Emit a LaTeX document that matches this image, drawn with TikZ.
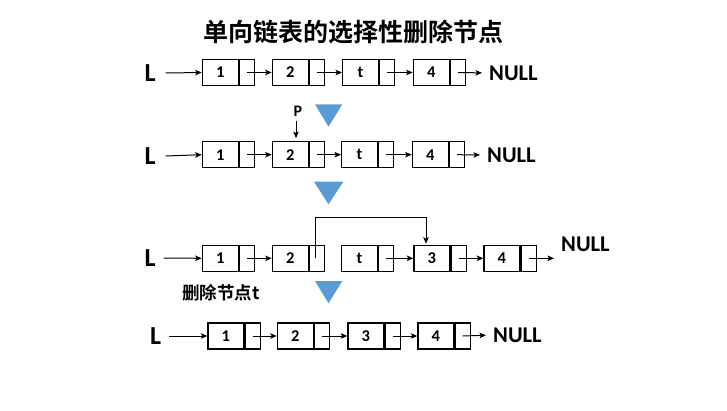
\documentclass[tikz,border=0pt]{standalone}
\usepackage{fontspec}
\setmainfont{Carlito}
\newfontfamily\cjk{Noto Sans CJK SC}[BoldFont=* Bold]
\usetikzlibrary{arrows.meta}
\definecolor{triblue}{HTML}{5B9BD5}
\tikzset{
  datacell/.style={draw, line width=1.2pt, minimum width=36pt, minimum height=26pt,
    inner sep=0pt, anchor=west, font=\fontsize{16.5}{16.5}\selectfont\bfseries},
  ptrcell/.style={draw, line width=1.2pt, minimum width=15pt, minimum height=26pt,
    inner sep=0pt, anchor=west},
  link/.style={line width=1pt, -{Stealth[length=6.5pt,width=5.5pt,inset=1.5pt]}},
  headlabel/.style={font=\fontsize{26}{26}\selectfont\bfseries, inner sep=0pt},
  nulllabel/.style={font=\fontsize{22.5}{22.5}\selectfont\bfseries, inner sep=0pt, anchor=west},
  tonull/.style={link, shorten >=7pt},
  step arrow/.style={fill=triblue, draw=none}
}
% one list cell: data part (#1) followed by its pointer part (#1p)
\newcommand{\listcell}[4]{%
  \node[datacell] (#1) at (#2,#3) {#4};
  \node[ptrcell] (#1p) at (#1.east) {};
}
\begin{document}
\begin{tikzpicture}[x=1pt,y=-1pt]
\useasboundingbox (0,0) rectangle (727,410);

% title
\node[font=\cjk\bfseries\fontsize{25}{26}\selectfont, inner sep=0pt] (title) at (353.5,32) {单向链表的选择性删除节点};

% row 1: original list
\node[headlabel] (L1) at (150,73) {L};
\listcell{a1}{201.7}{72.5}{1}
\listcell{a2}{271.7}{72.5}{2}
\listcell{a3}{342}{72.5}{t}
\listcell{a4}{412.7}{72.5}{4}
\node[nulllabel] (N1) at (489,73) {NULL};
\draw[link] (L1.east) ++(10,0) coordinate (L1s) (L1s) -- (a1.west);
\draw[link] (a1p.center) -- (a2.west);
\draw[link] (a2p.center) -- (a3.west);
\draw[link] (a3p.center) -- (a4.west);
\draw[tonull] (a4p.center) -- (N1.west);

\fill[step arrow] (315,104.3) -- (342.3,104.3) -- (328.5,126.7) -- cycle;

% row 2: P points at the node before t
\node[headlabel] (L2) at (150,156) {L};
\listcell{b1}{201.7}{154.7}{1}
\listcell{b2}{271.7}{154.7}{2}
\listcell{b3}{341}{154.7}{t}
\listcell{b4}{411.7}{154.7}{4}
\node[nulllabel] (N2) at (487,155) {NULL};
\node[font=\fontsize{16}{16}\selectfont\bfseries, inner sep=0pt] (P) at (298,111.5) {P};
\draw[link] (L2.east) ++(10,0) coordinate (L2s) (L2s) -- (b1.west);
\draw[link] (b1p.center) -- (b2.west);
\draw[link] (b2p.center) -- (b3.west);
\draw[link] (b3p.center) -- (b4.west);
\draw[tonull] (b4p.center) -- (N2.west);
\draw[link, shorten >=3pt] (P.south) ++(-2,4) coordinate (Ps) (Ps) -- (Ps |- b2.north);

\fill[step arrow] (314,181.7) -- (343.3,181.7) -- (328.5,204.3) -- cycle;

% row 3: the pointer of 2 skips t
\node[headlabel] (L3) at (150,258) {L};
\listcell{c1}{201.7}{258.3}{1}
\listcell{c2}{271.7}{258.3}{2}
\listcell{c3}{341}{258.3}{t}
\listcell{c4}{413.3}{258.3}{3}
\listcell{c5}{483.3}{258.3}{4}
\node[nulllabel] (N3) at (561,244) {NULL};
\coordinate (c5end) at (554,258.3);
\coordinate (hop) at (426,217.7);
\path (c2p.center) ++(-1.5,0) coordinate (c2s);
\draw[link] (L3.east) ++(8,0) coordinate (L3s) (L3s) -- (c1.west);
\draw[link] (c1p.center) -- (c2.west);
\draw[link, shorten >=1pt] (c2s) -- (c2s |- hop) -- (hop) -- (hop |- c4.north);
\draw[link] (c3p.center) -- (c4.west);
\draw[link] (c4p.center) -- (c5.west);
\draw[link] (c5p.center) -- (c5end);
\node[font=\cjk\bfseries\fontsize{17.5}{18}\selectfont, inner sep=0pt, anchor=west] (del) at (182,293) {删除节点t};

\fill[step arrow] (315,281) -- (342.3,281) -- (328.5,303.3) -- cycle;

% row 4: resulting list
\node[headlabel] (L4) at (155.5,336) {L};
\listcell{d1}{207.3}{336}{1}
\listcell{d2}{276.7}{336}{2}
\listcell{d3}{347.3}{336}{3}
\listcell{d4}{417.3}{336}{4}
\node[nulllabel] (N4) at (493,335) {NULL};
\draw[link] (L4.east) ++(8,0) coordinate (L4s) (L4s) -- (d1.west);
\draw[link] (d1p.center) -- (d2.west);
\draw[link] (d2p.center) -- (d3.west);
\draw[link] (d3p.center) -- (d4.west);
\draw[tonull] (d4p.center) -- (N4.west);
\end{tikzpicture}
\end{document}
